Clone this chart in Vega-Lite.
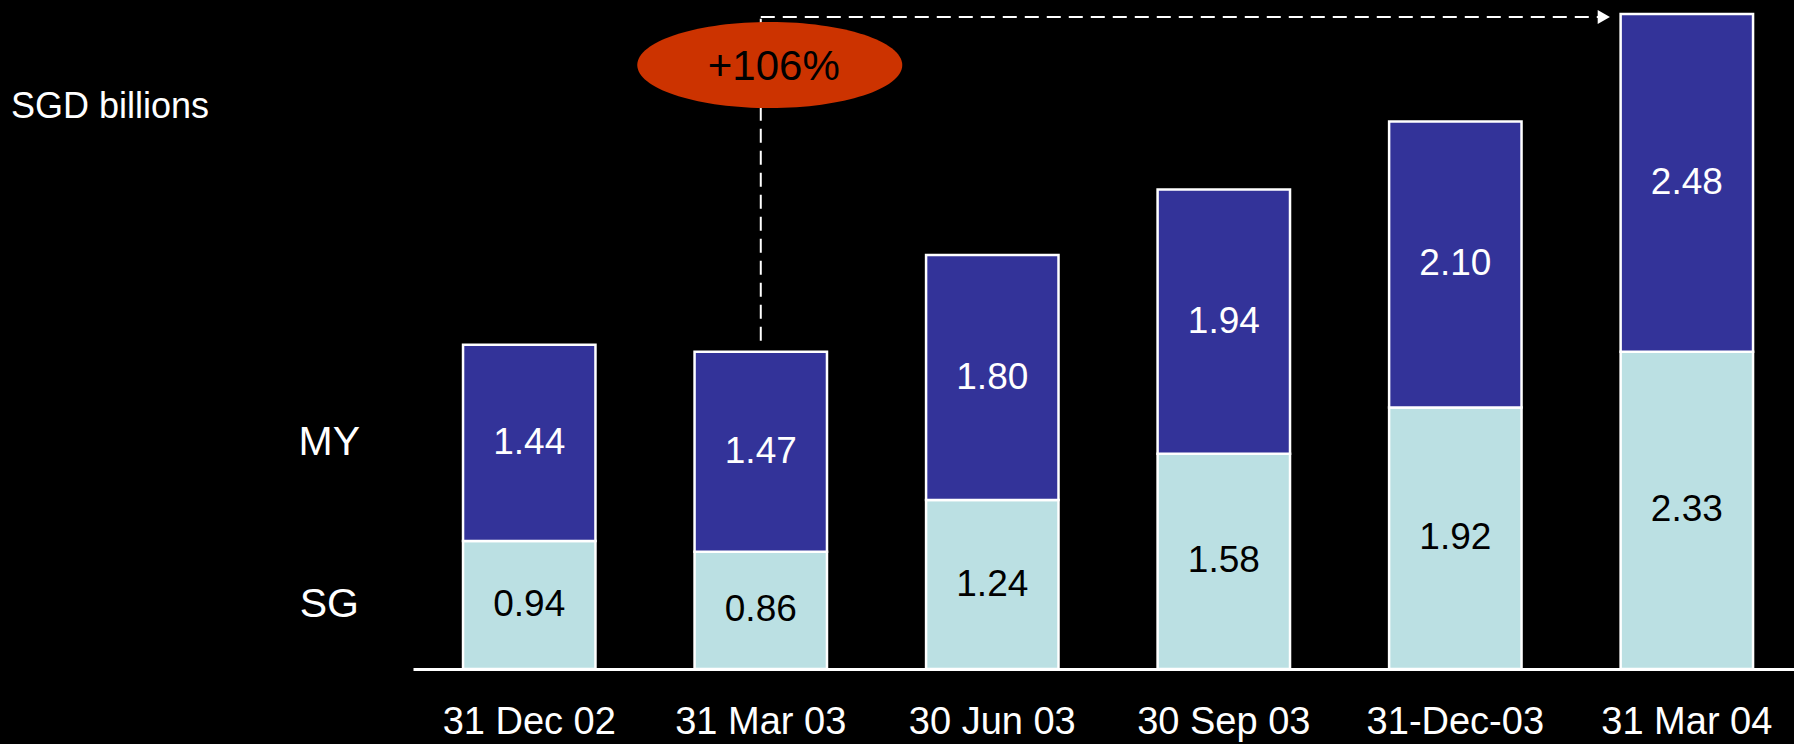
{
  "$schema": "https://vega.github.io/schema/vega-lite/v6.json",
  "width": 1381,
  "height": 669,
  "autosize": {"type": "none"},
  "padding": {"left": 413, "top": 0, "right": 0, "bottom": 75},
  "background": "black",
  "config": {"view": {"stroke": null}, "font": "Liberation Sans"},
  "title": {
    "text": "SGD billions",
    "anchor": "start",
    "frame": "group",
    "orient": "top",
    "offset": 0,
    "dx": -402,
    "dy": 143,
    "baseline": "middle",
    "fontSize": 36,
    "fontWeight": "normal",
    "color": "white",
    "font": "Liberation Sans"
  },
  "data": {
    "values": [
      {"date": "31 Dec 02", "series": "SG", "value": 0.94},
      {"date": "31 Dec 02", "series": "MY", "value": 1.44},
      {"date": "31 Mar 03", "series": "SG", "value": 0.86},
      {"date": "31 Mar 03", "series": "MY", "value": 1.47},
      {"date": "30 Jun 03", "series": "SG", "value": 1.24},
      {"date": "30 Jun 03", "series": "MY", "value": 1.80},
      {"date": "30 Sep 03", "series": "SG", "value": 1.58},
      {"date": "30 Sep 03", "series": "MY", "value": 1.94},
      {"date": "31-Dec-03", "series": "SG", "value": 1.92},
      {"date": "31-Dec-03", "series": "MY", "value": 2.10},
      {"date": "31 Mar 04", "series": "SG", "value": 2.33},
      {"date": "31 Mar 04", "series": "MY", "value": 2.48}
    ]
  },
  "layer": [
    {
      "transform": [{"stack": "value", "groupby": ["date"], "sort": [{"field": "series", "order": "descending"}], "as": ["y0", "y1"]}],
      "mark": {"type": "bar", "stroke": "white", "strokeWidth": 2.5, "strokeJoin": "miter"},
      "encoding": {
        "x": {
          "field": "date", "type": "nominal",
          "scale": {"domain": ["31 Dec 02", "31 Mar 03", "30 Jun 03", "30 Sep 03", "31-Dec-03", "31 Mar 04"], "paddingInner": 0.428, "paddingOuter": 0.1965, "align": 0.55},
          "axis": {"title": null, "labelAngle": 0, "labelColor": "white", "labelFont": "Liberation Sans", "labelFontSize": 38, "labelPadding": 34, "ticks": false, "domainColor": "white", "domainWidth": 3, "grid": false}
        },
        "y": {"field": "y0", "type": "quantitative", "scale": {"domain": [0, 4.912], "nice": false, "zero": true}, "axis": null},
        "y2": {"field": "y1"},
        "color": {"field": "series", "type": "nominal", "scale": {"domain": ["SG", "MY"], "range": ["#BBE0E3", "#333399"]}, "legend": null}
      }
    },
    {
      "transform": [
        {"stack": "value", "groupby": ["date"], "sort": [{"field": "series", "order": "descending"}], "as": ["y0", "y1"]},
        {"fold": ["y0", "y1"], "as": ["edge", "pos"]},
        {"aggregate": [{"op": "mean", "field": "pos", "as": "mid"}], "groupby": ["date", "series", "value"]}
      ],
      "mark": {"type": "text", "fontSize": 37, "font": "Liberation Sans", "align": "center", "baseline": "middle"},
      "encoding": {
        "x": {"field": "date", "type": "nominal"},
        "y": {"field": "mid", "type": "quantitative"},
        "text": {"field": "value", "type": "quantitative", "format": ".2f"},
        "color": {"condition": {"test": "datum.series == 'MY'", "value": "white"}, "value": "black"}
      }
    },
    {
      "transform": [
        {"filter": "datum.date == '31 Dec 02'"},
        {"stack": "value", "groupby": ["date"], "sort": [{"field": "series", "order": "descending"}], "as": ["y0", "y1"]},
        {"fold": ["y0", "y1"], "as": ["edge", "pos"]},
        {"aggregate": [{"op": "mean", "field": "pos", "as": "mid"}], "groupby": ["date", "series"]}
      ],
      "mark": {"type": "text", "fontSize": 41, "font": "Liberation Sans", "align": "center", "baseline": "middle", "color": "white", "xOffset": -200},
      "encoding": {
        "x": {"field": "date", "type": "nominal"},
        "y": {"field": "mid", "type": "quantitative"},
        "text": {"field": "series", "type": "nominal"}
      }
    },
    {
      "data": {"values": [{}]},
      "mark": {"type": "rule", "color": "white", "strokeWidth": 2, "strokeDash": [14, 8]},
      "encoding": {
        "x": {"datum": "31 Mar 03", "type": "nominal"},
        "y": {"datum": 2.41, "type": "quantitative"},
        "y2": {"datum": 4.787}
      }
    },
    {
      "data": {"values": [{}]},
      "mark": {"type": "rule", "color": "white", "strokeWidth": 2, "strokeDash": [14, 8], "x2Offset": -83},
      "encoding": {
        "x": {"datum": "31 Mar 03", "type": "nominal"},
        "x2": {"datum": "31 Mar 04"},
        "y": {"datum": 4.787, "type": "quantitative"}
      }
    },
    {
      "data": {"values": [{}]},
      "mark": {"type": "point", "shape": "triangle-right", "size": 200, "filled": true, "color": "white", "opacity": 1, "xOffset": -83},
      "encoding": {
        "x": {"datum": "31 Mar 04", "type": "nominal"},
        "y": {"datum": 4.787, "type": "quantitative"}
      }
    },
    {
      "data": {"values": [{}]},
      "mark": {"type": "point", "shape": "M-1,0A1,0.325,0,1,0,1,0A1,0.325,0,1,0,-1,0Z", "size": 70225, "filled": true, "color": "#CC3300", "opacity": 1, "strokeWidth": 0, "xOffset": 9},
      "encoding": {
        "x": {"datum": "31 Mar 03", "type": "nominal"},
        "y": {"datum": 4.435, "type": "quantitative"}
      }
    },
    {
      "data": {"values": [{"label": "+106%"}]},
      "mark": {"type": "text", "fontSize": 42, "font": "Liberation Sans", "color": "black", "align": "center", "baseline": "middle", "xOffset": 13},
      "encoding": {
        "x": {"datum": "31 Mar 03", "type": "nominal"},
        "y": {"datum": 4.42, "type": "quantitative"},
        "text": {"field": "label", "type": "nominal"}
      }
    }
  ]
}
